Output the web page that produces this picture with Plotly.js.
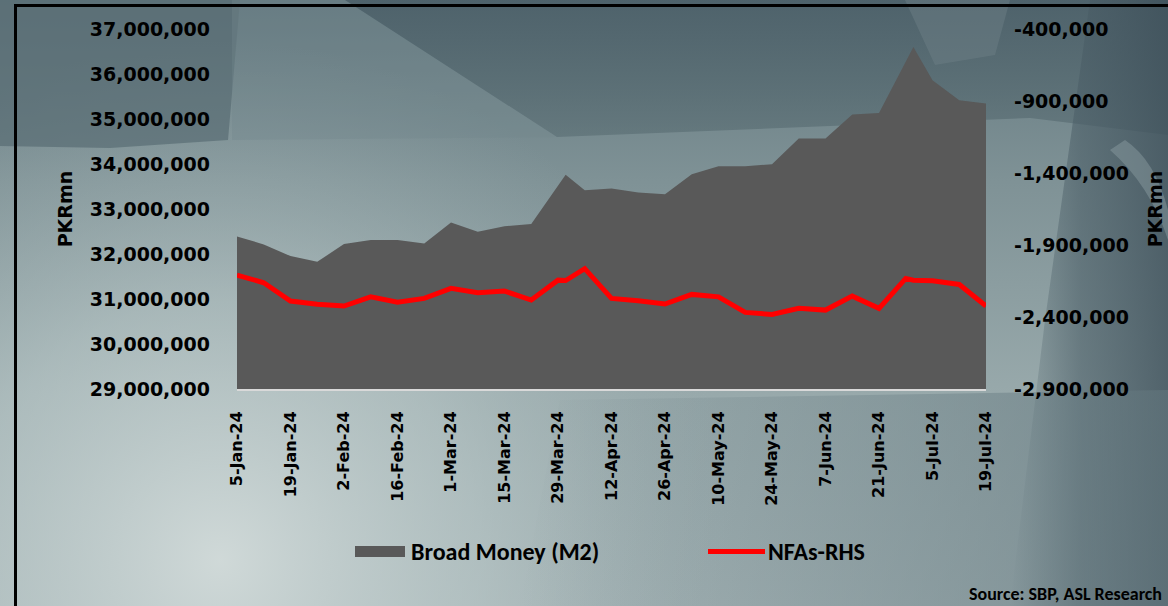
<!DOCTYPE html>
<html>
<head>
<meta charset="utf-8">
<script src="https://cdn.plot.ly/plotly-3.0.1.min.js"></script>
<style>
  html, body { margin: 0; padding: 0; }
  #wrap { position: relative; width: 1168px; height: 606px; overflow: hidden; }
  #bg { position: absolute; left: 0; top: 0; }
  #chart { position: absolute; left: 0; top: 0; width: 1168px; height: 606px; }
</style>
</head>
<body>
<div id="wrap">
<svg id="bg" width="1168" height="606" xmlns="http://www.w3.org/2000/svg">
  <defs>
    <linearGradient id="gBase" x1="0" y1="0" x2="0" y2="1">
      <stop offset="0" stop-color="#63787f"/>
      <stop offset="0.3" stop-color="#7f9296"/>
      <stop offset="0.65" stop-color="#98a9ab"/>
      <stop offset="1" stop-color="#a3b2b4"/>
    </linearGradient>
    <radialGradient id="gGlow" cx="220" cy="560" r="520" gradientUnits="userSpaceOnUse">
      <stop offset="0" stop-color="#d2dbda" stop-opacity="0.95"/>
      <stop offset="0.5" stop-color="#bccaca" stop-opacity="0.55"/>
      <stop offset="1" stop-color="#9fb0b2" stop-opacity="0"/>
    </radialGradient>
    <linearGradient id="gRight" x1="0" y1="0" x2="1" y2="0">
      <stop offset="0" stop-color="#4a5d66" stop-opacity="0"/>
      <stop offset="0.45" stop-color="#4a5d66" stop-opacity="0.6"/>
      <stop offset="1" stop-color="#3f515b" stop-opacity="0.8"/>
    </linearGradient>
    <linearGradient id="gTop" x1="0" y1="0" x2="0" y2="1">
      <stop offset="0" stop-color="#4c6069" stop-opacity="0.9"/>
      <stop offset="1" stop-color="#55696f" stop-opacity="0.55"/>
    </linearGradient>
    <linearGradient id="gBR" x1="0" y1="0" x2="1" y2="0">
      <stop offset="0" stop-color="#6f8389" stop-opacity="0"/>
      <stop offset="0.6" stop-color="#6f8389" stop-opacity="0.45"/>
      <stop offset="1" stop-color="#62767d" stop-opacity="0.6"/>
    </linearGradient>
  </defs>
  <rect x="0" y="0" width="1168" height="606" fill="url(#gBase)"/>
  <rect x="0" y="0" width="1168" height="606" fill="url(#gGlow)"/>
  <polygon points="0,0 240,0 228,140 110,148 0,146" fill="#586c74" opacity="0.7"/>
  <polygon points="232,0 345,0 557,137 232,140" fill="#74878c" opacity="0.35"/>
  <polygon points="345,0 1168,0 1168,135 1030,118 557,137" fill="url(#gTop)"/>
  <polygon points="905,0 1010,0 995,55 935,65" fill="#6f8187" opacity="0.45"/>
  <polygon points="1090,0 1168,0 1168,606 1010,606 1045,320" fill="url(#gRight)"/>
  <path d="M1125,140 Q1155,160 1168,210 L1168,240 Q1150,185 1110,150 Z" fill="#8ea0a5" opacity="0.45"/>
  <polygon points="560,400 1168,390 1168,606 520,606" fill="url(#gBR)"/>
  <line x1="15.5" y1="5" x2="15.5" y2="606" stroke="#000" stroke-width="3"/>
  <line x1="14" y1="5.5" x2="1168" y2="5.5" stroke="#000" stroke-width="3"/>
</svg>
<div id="chart"></div>
</div>
<script>
// ---- Data ----
const m2Dates = ['2024-01-05','2024-01-12','2024-01-19','2024-01-26','2024-02-02','2024-02-09','2024-02-16','2024-02-23',
  '2024-03-01','2024-03-08','2024-03-15','2024-03-22','2024-03-31','2024-04-05','2024-04-12','2024-04-19','2024-04-26',
  '2024-05-03','2024-05-10','2024-05-17','2024-05-24','2024-05-31','2024-06-07','2024-06-14','2024-06-21','2024-06-30',
  '2024-07-05','2024-07-12','2024-07-19'];
const m2Values = [32390000, 32213000, 31953000, 31827000, 32220000, 32309000, 32309000, 32235000,
  32702000, 32493000, 32619000, 32664000, 33763000, 33419000, 33457000, 33368000, 33330000,
  33774000, 33952000, 33952000, 33996000, 34567000, 34567000, 35099000, 35135000, 36600000,
  35861000, 35417000, 35344000];

const nfaDates = ['2024-01-05','2024-01-12','2024-01-19','2024-01-26','2024-02-02','2024-02-09','2024-02-16','2024-02-23',
  '2024-03-01','2024-03-08','2024-03-15','2024-03-22','2024-03-29','2024-03-31','2024-04-05','2024-04-12','2024-04-19','2024-04-26',
  '2024-05-03','2024-05-10','2024-05-17','2024-05-24','2024-05-31','2024-06-07','2024-06-14','2024-06-21','2024-06-28','2024-06-30',
  '2024-07-05','2024-07-12','2024-07-19'];
const nfaValues = [-2109000, -2162000, -2289000, -2312000, -2324000, -2260000, -2298000, -2271000,
  -2201000, -2232000, -2220000, -2282000, -2144000, -2147000, -2064000, -2271000, -2287000, -2310000,
  -2243000, -2260000, -2368000, -2382000, -2340000, -2352000, -2255000, -2340000, -2132000, -2144000,
  -2149000, -2174000, -2324000];

const leftTicks = [29000000, 30000000, 31000000, 32000000, 33000000, 34000000, 35000000, 36000000, 37000000];
const rightTicks = [-2900000, -2400000, -1900000, -1400000, -900000, -400000];
const seriesNames = ['Broad Money (M2)', 'NFAs-RHS'];
const axisTitle = 'PKRmn';
const sourceText = 'Source: SBP, ASL Research';

// ---- Layout helpers ----
const W = 1168, H = 606;
const M = {l: 237, r: 182, t: 29, b: 217};
const PW = W - M.l - M.r, PH = H - M.t - M.b;
const px = x => (x - M.l) / PW;
const py = y => (H - M.b - y) / PH;

const fmt = v => v.toLocaleString('en-US');
const tickFont = {family: '"DejaVu Sans", Verdana, sans-serif', size: 19, color: '#000', weight: 'bold'};
const legFont = {family: 'Carlito, "Liberation Sans Narrow", "Roboto", sans-serif', size: 24, color: '#000', weight: 'bold'};

const traces = [
  {
    x: m2Dates, y: m2Values, name: seriesNames[0], type: 'scatter', mode: 'none',
    fill: 'tozeroy', fillcolor: '#595959', yaxis: 'y', showlegend: false
  },
  {
    x: nfaDates, y: nfaValues, name: seriesNames[1], type: 'scatter', mode: 'lines',
    line: {color: '#ff0000', width: 5}, yaxis: 'y2', showlegend: false
  }
];

const layout = {
  width: W, height: H,
  margin: M,
  paper_bgcolor: 'rgba(0,0,0,0)',
  plot_bgcolor: 'rgba(0,0,0,0)',
  showlegend: false,
  xaxis: {
    type: 'date',
    range: [m2Dates[0], m2Dates[m2Dates.length - 1]],
    tick0: m2Dates[0], dtick: 14 * 86400000,
    tickformat: '%-d-%b-%y', tickangle: -90,
    tickfont: {family: '"DejaVu Sans", Verdana, sans-serif', size: 16, color: '#000', weight: 'bold'},
    ticks: '', showgrid: false, zeroline: false,
    showline: true, linecolor: '#d9d9d9', linewidth: 2,
    ticklabelstandoff: 14, fixedrange: true
  },
  yaxis: {
    range: [leftTicks[0], leftTicks[leftTicks.length - 1]],
    tickvals: leftTicks, ticktext: leftTicks.map(fmt),
    tickfont: tickFont, ticks: '', showgrid: false, zeroline: false, showline: false,
    ticklabelstandoff: 26,
    title: {text: axisTitle, font: tickFont, standoff: 12},
    fixedrange: true
  },
  yaxis2: {
    overlaying: 'y', side: 'right',
    range: [rightTicks[0], rightTicks[rightTicks.length - 1]],
    tickvals: rightTicks, ticktext: rightTicks.map(fmt),
    tickfont: tickFont, ticks: '', showgrid: false, zeroline: false, showline: false,
    ticklabelstandoff: 27,
    title: {text: axisTitle, font: tickFont, standoff: 20},
    fixedrange: true
  },
  shapes: [
    {type: 'rect', xref: 'paper', yref: 'paper', x0: px(355), x1: px(405), y0: py(546), y1: py(557),
     fillcolor: '#595959', line: {width: 0}},
    {type: 'line', xref: 'paper', yref: 'paper', x0: px(708), x1: px(765), y0: py(551.5), y1: py(551.5),
     line: {color: '#ff0000', width: 5}}
  ],
  annotations: [
    {text: seriesNames[0], xref: 'paper', yref: 'paper', x: px(409), y: py(551.5), xanchor: 'left', yanchor: 'middle',
     showarrow: false, font: legFont},
    {text: seriesNames[1], xref: 'paper', yref: 'paper', x: px(766), y: py(551.5), xanchor: 'left', yanchor: 'middle',
     showarrow: false, font: legFont},
    {text: sourceText, xref: 'paper', yref: 'paper', x: px(1164), y: py(594), xanchor: 'right', yanchor: 'middle',
     showarrow: false, font: {family: legFont.family, size: 18, color: '#000', weight: 'bold'}}
  ]
};

Plotly.newPlot('chart', traces, layout, {displayModeBar: false, staticPlot: true});
</script>
</body>
</html>
